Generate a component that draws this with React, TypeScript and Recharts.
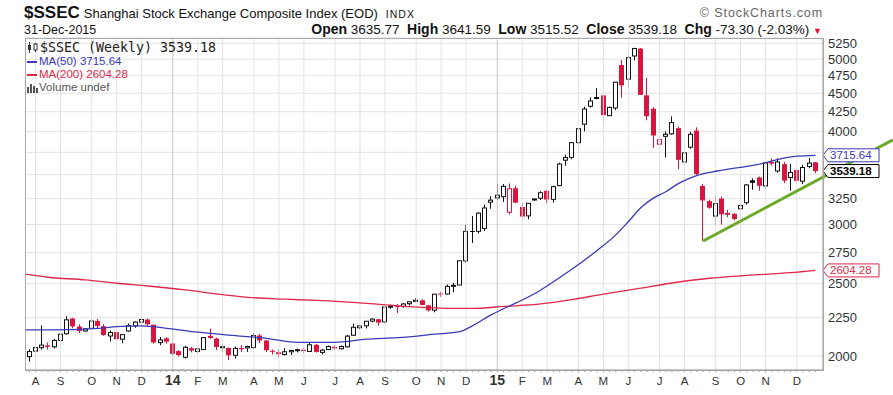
import React from "react";
import {
  ComposedChart,
  Bar,
  Line,
  XAxis,
  YAxis,
  CartesianGrid,
  ReferenceLine,
  ReferenceDot,
} from "recharts";

// weekly candles, index 0 = week ending 2-Aug-2013, 126 = 31-Dec-2015
const OPEN = [
  1996, 2030, 2052, 2066, 2057, 2098, 2142, 2245, 2190, 2160, 2178, 2228, 2192, 2127, 2153, 2106, 2160, 2195, 2220, 2238,
  2202, 2084, 2112, 2078, 2030, 1992, 2048, 2028, 2040, 2128, 2110, 2055, 2050, 2004, 2050, 2050, 2052, 2130, 2098, 2032,
  2023, 2009, 2026, 2034, 2039, 2028, 2070, 2022, 2040, 2057, 2045, 2057, 2132, 2182, 2195, 2227, 2240, 2222, 2328, 2332,
  2329, 2350, 2367, 2374, 2338, 2303, 2425, 2421, 2480, 2490, 2682, 2941, 2938, 2965, 3215, 3258, 3270, 3117, 3356, 3167,
  3082, 3240, 3254, 3330, 3243, 3384, 3660, 3692, 3863, 4090, 4323, 4431, 4470, 4199, 4300, 4910, 4700, 5049, 5166, 4471,
  4290, 3845, 3940, 3970, 4040, 3640, 3810, 4010, 3380, 3225, 3080, 3250, 3110, 3100, 3150, 3210, 3440, 3470, 3380, 3640,
  3540, 3615, 3470, 3550, 3430, 3590, 3635.77,
];
const HIGH = [
  2042, 2060, 2198, 2085, 2108, 2150, 2262, 2250, 2205, 2180, 2240, 2242, 2206, 2164, 2160, 2139, 2211, 2225, 2262, 2245,
  2205, 2120, 2118, 2082, 2036, 2064, 2056, 2047, 2120, 2177, 2116, 2076, 2052, 2059, 2068, 2064, 2146, 2141, 2100, 2040,
  2041, 2049, 2038, 2045, 2051, 2088, 2075, 2044, 2065, 2066, 2066, 2134, 2210, 2201, 2228, 2248, 2242, 2327, 2343, 2347,
  2355, 2369, 2391, 2382, 2343, 2420, 2439, 2494, 2506, 2683, 2998, 3080, 3116, 3190, 3275, 3406, 3400, 3406, 3384, 3210,
  3206, 3250, 3325, 3336, 3383, 3632, 3723, 3866, 4040, 4317, 4444, 4572, 4490, 4317, 4658, 4986, 5060, 5178, 5176, 4720,
  4310, 3910, 4000, 4190, 4060, 3850, 3995, 4050, 3400, 3240, 3280, 3270, 3140, 3110, 3200, 3400, 3460, 3480, 3630, 3680,
  3680, 3640, 3620, 3560, 3610, 3685, 3641.59,
];
const LOW = [
  1965, 2020, 2040, 2040, 2047, 2090, 2136, 2178, 2145, 2155, 2172, 2180, 2128, 2092, 2097, 2080, 2155, 2182, 2207, 2195,
  2077, 2067, 2077, 2005, 1996, 1985, 2022, 2018, 2037, 2108, 2036, 2023, 1974, 1985, 2024, 2025, 2045, 2080, 2024, 2009,
  1991, 2002, 2006, 2022, 2018, 2026, 2020, 2010, 2038, 2039, 2040, 2053, 2128, 2171, 2177, 2218, 2195, 2211, 2313, 2283,
  2321, 2338, 2361, 2339, 2293, 2288, 2400, 2418, 2434, 2490, 2667, 2834, 2919, 2940, 3150, 3238, 3218, 3095, 3207, 3049,
  3049, 3230, 3237, 3206, 3210, 3378, 3598, 3669, 3832, 4000, 4306, 4418, 4100, 4198, 4272, 4440, 4573, 4981, 4476, 4140,
  3800, 3376, 3690, 3960, 3560, 3590, 3790, 3490, 2850, 3150, 3000, 3000, 3070, 3040, 3140, 3190, 3340, 3330, 3345, 3600,
  3520, 3410, 3330, 3420, 3400, 3570, 3515.52,
];
const CLOSE = [
  2027, 2052, 2068, 2057, 2098, 2139, 2236, 2191, 2160, 2174, 2228, 2194, 2133, 2150, 2106, 2136, 2196, 2220, 2238, 2205,
  2085, 2101, 2090, 2013, 2005, 2054, 2033, 2044, 2116, 2114, 2056, 2058, 2004, 2047, 2042, 2059, 2130, 2098, 2036, 2026,
  2011, 2026, 2034, 2039, 2030, 2070, 2025, 2036, 2059, 2047, 2059, 2126, 2185, 2194, 2226, 2241, 2217, 2326, 2332, 2329,
  2348, 2364, 2375, 2341, 2302, 2420, 2418, 2479, 2487, 2683, 2937.6, 2938.2, 3108, 3158, 3235, 3285, 3376, 3351, 3210, 3076,
  3204, 3247, 3310, 3241, 3373, 3617, 3691, 3864, 4034, 4287, 4394, 4441, 4206, 4308, 4657, 4611, 5023, 5166, 4478, 4192,
  3950, 3900, 3965, 4110, 3664, 3744, 3965, 3507, 3232, 3160, 3200, 3097, 3092, 3052, 3183, 3391, 3412, 3382, 3628, 3622,
  3640, 3436, 3524, 3434, 3578, 3627, 3539.18,
];

// moving averages at a few weeks (-0.69 = left edge of the plot)
const MA50_WEEK = [-0.69, 3, 11, 14, 18, 22, 27, 33, 38, 43, 49, 54, 59, 65, 69, 71, 74, 77, 79, 82, 84, 87, 91, 94, 96, 98, 100, 102, 104, 106, 108, 110, 112, 115, 118, 120, 123, 126];
const MA50_VALUE = [2167, 2167, 2178, 2189, 2194, 2178, 2152, 2129, 2112, 2086, 2086, 2106, 2116, 2139, 2156, 2195, 2270, 2335, 2377, 2452, 2515, 2615, 2770, 2906, 3027, 3160, 3255, 3320, 3405, 3465, 3510, 3537, 3560, 3590, 3632, 3670, 3705, 3715.64];
const MA200_WEEK = [-0.69, 3, 9, 14, 19, 25, 30, 35, 41, 46, 54, 61, 67, 71, 76, 82, 87, 92, 98, 103, 109, 115, 122, 126];
const MA200_VALUE = [2574, 2550, 2529, 2503, 2482, 2452, 2422, 2397, 2383, 2374, 2353, 2329, 2317, 2316, 2330, 2348, 2380, 2420, 2465, 2505, 2542, 2564, 2586, 2604.28];

const MONTH_WEEK = [1, 5, 10, 14, 18, 23, 27, 31, 36, 40, 44, 49, 53, 57, 62, 66, 70, 75, 79, 83, 88, 92, 96, 101, 105, 110, 114, 118, 123];
const MONTH_LABEL = ["A", "S", "O", "N", "D", "14", "F", "M", "A", "M", "J", "J", "A", "S", "O", "N", "D", "15", "F", "M", "A", "M", "J", "J", "A", "S", "O", "N", "D"];
const Y_TICKS = [2000, 2250, 2500, 2750, 3000, 3250, 3500, 3750, 4000, 4250, 4500, 4750, 5000, 5250];
// these two labels sit under the last-value tags in the original
const Y_HIDDEN = [3500, 3750];

// trendline drawn from the August low
const TREND = [
  { x: 108, y: 2852 },
  { x: 138.4, y: 3896 },
];

const RED = "#d8153e";
const BLACK = "#111";
const BLUE = "#3a3ab8";
const MA_RED = "#e0284a";
const GREEN = "#6aaa2a";
const FONT = "'Liberation Sans', Arial, sans-serif";

const ma50 = new Map(MA50_WEEK.map((w, k) => [w, MA50_VALUE[k]]));
const ma200 = new Map(MA200_WEEK.map((w, k) => [w, MA200_VALUE[k]]));

const candleRows = CLOSE.map((c, i) => ({
  i,
  o: OPEN[i],
  h: HIGH[i],
  l: LOW[i],
  c,
  pc: i > 0 ? CLOSE[i - 1] : null,
  range: [LOW[i], HIGH[i]],
  ma50: ma50.has(i) ? ma50.get(i) : null,
  ma200: ma200.has(i) ? ma200.get(i) : null,
}));
const rows = [{ i: -0.69, ma50: ma50.get(-0.69), ma200: ma200.get(-0.69) }, ...candleRows];

const allWeeks = candleRows.map((r) => r.i);

function Candle(props: any) {
  const { x, y, width, height, payload } = props;
  if (!payload || x == null || payload.h == null) return null;
  const { o, h, l, c, pc } = payload;
  const top0 = height < 0 ? y + height : y;
  const hh = Math.abs(height);
  const cx = Math.floor(x + width / 2) + 0.5;
  const span = Math.log(h) - Math.log(l);
  const py = (v: number) => (span > 0 ? top0 + (hh * (Math.log(h) - Math.log(v))) / span : top0);
  const col = pc != null && c < pc ? RED : BLACK;
  const bt = py(Math.max(o, c));
  const bb = py(Math.min(o, c));
  const bh = Math.max(bb - bt, 1);
  return (
    <g>
      <line x1={cx} x2={cx} y1={top0} y2={top0 + hh} stroke={col} strokeWidth={1} />
      {c >= o ? (
        <rect x={cx - 2} y={bt} width={4} height={bh} fill="#fff" stroke={col} strokeWidth={1} />
      ) : (
        <rect x={cx - 2.5} y={bt} width={5} height={bh} fill={col} />
      )}
    </g>
  );
}

function WeekTick(props: any) {
  const { x, y, payload } = props;
  const k = MONTH_WEEK.indexOf(payload.value);
  const lab = k >= 0 ? MONTH_LABEL[k] : null;
  const year = lab != null && /\d/.test(lab);
  return (
    <g>
      <line x1={x} x2={x} y1={y} y2={y + 2} stroke="#999" />
      {lab && (
        <text
          x={x}
          y={y + 15}
          textAnchor="middle"
          fontFamily={FONT}
          fontSize={year ? 14 : 11.5}
          fontWeight={year ? 700 : 400}
          fill="#333"
        >
          {lab}
        </text>
      )}
    </g>
  );
}

function PriceTick(props: any) {
  const { x, y, payload } = props;
  if (Y_HIDDEN.includes(payload.value)) return null;
  return (
    <text x={x} y={y} dy="0.355em" fontFamily={FONT} fontSize={13} fill="#333" textAnchor="start">
      {payload.value}
    </text>
  );
}

function tag(text: string, color: string, bold = false) {
  return (p: any) => {
    const { cx, cy } = p;
    const w = 56;
    return (
      <g>
        <polygon
          points={`${cx},${cy} ${cx + 5},${cy - 6.5} ${cx + w},${cy - 6.5} ${cx + w},${cy + 6.5} ${cx + 5},${cy + 6.5}`}
          fill="#fff"
          stroke={color}
          strokeWidth={1}
        />
        <text x={cx + 7} y={cy + 4} fontFamily={FONT} fontSize={11.5} fontWeight={bold ? 700 : 400} fill={color}>
          {text}
        </text>
      </g>
    );
  };
}

const lab = { fontSize: 14 };

export default function App() {
  return (
    <div
      style={{
        position: "absolute",
        left: 0,
        top: 0,
        width: 893,
        height: 395,
        background: "#fff",
        fontFamily: FONT,
        color: "#111",
        overflow: "hidden",
      }}
    >
      <div style={{ position: "absolute", left: 24, top: 3, whiteSpace: "nowrap", display: "flex", alignItems: "baseline" }}>
        <span style={{ fontWeight: 700, fontSize: 17 }}>$SSEC</span>
        <span style={{ fontSize: 13, marginLeft: 4 }}>Shanghai Stock Exchange Composite Index (EOD)</span>
        <span style={{ fontSize: 10.5, marginLeft: 8, letterSpacing: 1 }}>INDX</span>
      </div>
      <div style={{ position: "absolute", left: 24, top: 23, fontSize: 12.5 }}>31-Dec-2015</div>
      <div style={{ position: "absolute", right: 70, top: 6, fontSize: 12.5, letterSpacing: 0.9, color: "#666" }}>
        © StockCharts.com
      </div>
      <div style={{ position: "absolute", right: 71, top: 21, fontSize: 13.5, whiteSpace: "nowrap" }}>
        <b style={lab}>Open</b> 3635.77&nbsp; <b style={lab}>High</b> 3641.59&nbsp; <b style={lab}>Low</b> 3515.52&nbsp;{" "}
        <b style={lab}>Close</b> 3539.18&nbsp; <b style={lab}>Chg</b> -73.30 (-2.03%){" "}
        <span style={{ color: RED, fontSize: 9 }}>▼</span>
      </div>

      <ComposedChart width={893} height={395} data={rows} margin={{ top: 38, right: 0, bottom: 0, left: 25 }}>
        <CartesianGrid vertical={false} stroke="#e3e3e3" />
        {MONTH_WEEK.map((w, k) => (
          <ReferenceLine
            key={w}
            x={w}
            stroke={/\d/.test(MONTH_LABEL[k]) ? "#c4c4c4" : "#e3e3e3"}
            strokeWidth={1}
          />
        ))}
        <XAxis
          type="number"
          dataKey="i"
          domain={[-0.69, 127.2]}
          allowDataOverflow
          ticks={allWeeks}
          interval={0}
          tick={<WeekTick />}
          tickLine={false}
          axisLine={{ stroke: "#999" }}
          tickSize={0}
          tickMargin={0}
          height={25}
        />
        <YAxis
          orientation="right"
          scale="log"
          domain={[1915, 5337]}
          allowDataOverflow
          ticks={Y_TICKS}
          interval={0}
          width={70}
          tickLine={false}
          axisLine={{ stroke: "#999" }}
          tickSize={0}
          tickMargin={5}
          tick={<PriceTick />}
        />
        <Line
          dataKey="ma200"
          type="monotone"
          connectNulls
          stroke={MA_RED}
          strokeWidth={1.3}
          dot={false}
          isAnimationActive={false}
        />
        <Line
          dataKey="ma50"
          type="monotone"
          connectNulls
          stroke={BLUE}
          strokeWidth={1.3}
          dot={false}
          isAnimationActive={false}
        />
        <Bar dataKey="range" barSize={5} shape={<Candle />} isAnimationActive={false} />
        <ReferenceDot x={127.2} y={3715.64} ifOverflow="visible" shape={tag("3715.64", BLUE)} />
        <ReferenceDot x={127.2} y={2604.28} ifOverflow="visible" shape={tag("2604.28", MA_RED)} />
        <ReferenceDot x={127.2} y={3539.18} ifOverflow="visible" shape={tag("3539.18", "#000", true)} />
        <ReferenceLine segment={TREND} stroke={GREEN} strokeWidth={3} ifOverflow="visible" />
      </ComposedChart>

      <div
        style={{
          position: "absolute",
          left: 25,
          top: 38,
          width: 797,
          height: 331,
          border: "1px solid #a8a8a8",
          pointerEvents: "none",
        }}
      />

      <div style={{ position: "absolute", left: 27, top: 39, lineHeight: "13px", whiteSpace: "nowrap" }}>
        <div style={{ display: "flex", alignItems: "center", height: 16 }}>
          <svg width={11} height={11} style={{ marginRight: 2 }}>
            <line x1={2.5} x2={2.5} y1={0} y2={11} stroke="#333" />
            <rect x={1} y={3} width={3} height={5} fill="#333" />
            <line x1={8.5} x2={8.5} y1={1} y2={10} stroke="#333" />
            <rect x={7} y={2} width={3} height={6} fill="#fff" stroke="#333" />
          </svg>
          <span style={{ fontFamily: "'DejaVu Sans Mono', monospace", fontSize: 13.3, color: "#222" }}>
            $SSEC (Weekly) 3539.18
          </span>
        </div>
        <div style={{ fontSize: 11.5, color: BLUE }}>
          <span style={{ display: "inline-block", width: 10, height: 2, background: BLUE, verticalAlign: "middle", marginRight: 2 }} />
          MA(50) 3715.64
        </div>
        <div style={{ fontSize: 11.5, color: MA_RED }}>
          <span style={{ display: "inline-block", width: 10, height: 2, background: MA_RED, verticalAlign: "middle", marginRight: 2 }} />
          MA(200) 2604.28
        </div>
        <div style={{ fontSize: 11.5, color: "#555", display: "flex", alignItems: "center" }}>
          <svg width={11} height={10} style={{ marginRight: 1 }}>
            <rect x={0} y={4} width={2} height={6} fill="#555" />
            <rect x={3} y={1} width={2} height={9} fill="#555" />
            <rect x={6} y={3} width={2} height={7} fill="#555" />
            <rect x={9} y={5} width={2} height={5} fill="#555" />
          </svg>
          Volume undef
        </div>
      </div>
    </div>
  );
}
